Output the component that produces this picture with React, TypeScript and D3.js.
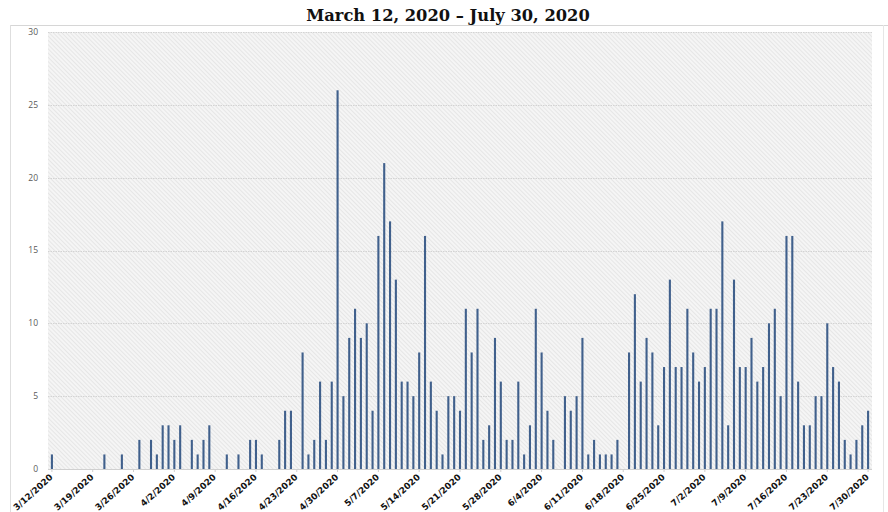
import React from 'react';
import * as d3 from 'd3';

const TITLE = 'March 12, 2020 – July 30, 2020';
const START = new Date(2020, 2, 12);
const END = new Date(2020, 6, 31);
const dates: Date[] = d3.timeDay.range(START, END);

const cases: number[] = [
  1, 0, 0, 0, 0, 0, 0, 0, 0, 1,
  0, 0, 1, 0, 0, 2, 0, 2, 1, 3,
  3, 2, 3, 0, 2, 1, 2, 3, 0, 0,
  1, 0, 1, 0, 2, 2, 1, 0, 0, 2,
  4, 4, 0, 8, 1, 2, 6, 2, 6, 26,
  5, 9, 11, 9, 10, 4, 16, 21, 17, 13,
  6, 6, 5, 8, 16, 6, 4, 1, 5, 5,
  4, 11, 8, 11, 2, 3, 9, 6, 2, 2,
  6, 1, 3, 11, 8, 4, 2, 0, 5, 4,
  5, 9, 1, 2, 1, 1, 1, 2, 0, 8,
  12, 6, 9, 8, 3, 7, 13, 7, 7, 11,
  8, 6, 7, 11, 11, 17, 3, 13, 7, 7,
  9, 6, 7, 10, 11, 5, 16, 16, 6, 3,
  3, 5, 5, 10, 7, 6, 2, 1, 2, 3,
  4,
];

const yTicks: number[] = [0, 5, 10, 15, 20, 25, 30];
const fmt = d3.timeFormat('%-m/%-d/%Y');

const W = 888;
const H = 512;
const PL = 49;
const PR = 871;
const PT = 32;
const PB = 469;

export default function App() {
  const x = d3
    .scaleBand<number>()
    .domain(dates.map((_, i) => i))
    .range([PL, PR])
    .paddingInner(0.64)
    .paddingOuter(0.32);
  const y = d3.scaleLinear().domain([0, 30]).range([PB, PT]);
  const tickIdx = dates.map((_, i) => i).filter((i) => i % 7 === 0);
  const cx = (i: number) => (x(i) as number) + x.bandwidth() / 2;

  return (
    <div style={{ position: 'absolute', left: 0, top: 0, width: W, height: H, background: '#fff' }}>
      <svg width={W} height={H} viewBox={`0 0 ${W} ${H}`} style={{ display: 'block' }}>
        <defs>
          <pattern id="hatch" width="3" height="3" patternUnits="userSpaceOnUse" patternTransform="rotate(45)">
            <rect width="3" height="3" fill="#f5f5f5" />
            <line x1="0" y1="0.5" x2="3" y2="0.5" stroke="#e6e6e6" strokeWidth="1" />
          </pattern>
        </defs>
        <rect x={0} y={0} width={W} height={H} fill="#fff" />
        {/* frame */}
        <line x1={10} y1={25.5} x2={W} y2={25.5} stroke="#d6d6d6" />
        <line x1={10.5} y1={25} x2={10.5} y2={H} stroke="#dedede" />
        <line x1={883.5} y1={25} x2={883.5} y2={H} stroke="#e6e6e6" />
        <text
          x={448}
          y={21}
          textAnchor="middle"
          fontFamily="'DejaVu Serif', serif"
          fontWeight="bold"
          fontSize={16.3}
          fill="#111"
        >
          {TITLE}
        </text>
        {/* plot background */}
        <rect x={PL - 1} y={PT} width={PR - PL + 2} height={PB - PT} fill="url(#hatch)" />
        {yTicks.map((t) => (
          <g key={t}>
            <line
              x1={PL - 1}
              x2={PR + 1}
              y1={Math.round(y(t)) + 0.5}
              y2={Math.round(y(t)) + 0.5}
              stroke={t === 0 ? '#d0d0d0' : '#d3d3d3'}
              strokeDasharray={t === 0 ? undefined : '1.5,1'}
            />
            <text
              x={38}
              y={y(t)}
              dy="0.35em"
              textAnchor="end"
              fontFamily="'Open Sans', sans-serif"
              fontSize={8.5}
              fill="#5a5a5a"
            >
              {t}
            </text>
          </g>
        ))}
        {cases.map((v, i) =>
          v > 0 ? (
            <rect
              key={i}
              x={x(i)}
              y={y(v)}
              width={x.bandwidth()}
              height={PB - y(v)}
              fill="#40608c"
            />
          ) : null
        )}
        {tickIdx.map((i) => (
          <g key={i}>
            <line x1={cx(i)} x2={cx(i)} y1={PB} y2={PB + 3} stroke="#cfcfcf" />
            <text
              transform={`translate(${cx(i) + 1.5},${PB + 9}) rotate(-42)`}
              textAnchor="end"
              fontFamily="'DejaVu Sans', sans-serif"
              fontWeight="bold"
              fontSize={8.8}
              fill="#111"
            >
              {fmt(dates[i])}
            </text>
          </g>
        ))}
      </svg>
    </div>
  );
}
